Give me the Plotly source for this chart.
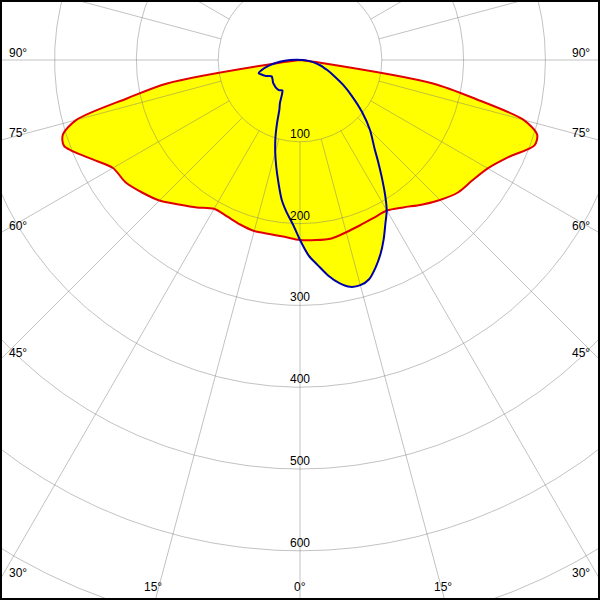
import numpy as np
import plotly.graph_objects as go

# ---- Luminous intensity data (cd) ----
# Red curve: C0 / C180 plane (right / left half), gamma measured from nadir
gamma_red = [0, 5, 10, 15, 20, 25, 30, 35, 40, 45, 50, 55, 60, 65, 70, 72.5, 75, 77.5, 80, 82.5, 85, 90]
red_c180 = [220, 217, 216, 216.5, 214, 211, 210, 220, 230.5, 243, 252, 260.5, 264, 284, 307, 304, 283, 216, 165, 25, 0, 0]
red_c0 = [220, 221, 221.5, 218, 215, 213, 212.5, 220, 231, 242, 252, 257, 265, 281, 305, 304, 283, 220, 165, 25, 0, 0]

# Blue curve: C90 / C270 plane (right / left half)
gamma_blue = [0, 2.5, 5, 7.5, 10, 12.5, 15, 17.5, 20, 22.5, 25, 27.5, 30, 32.5, 35, 37.5, 40,
              45, 50, 55, 60, 65, 70, 72.5, 75, 80, 85, 90]
blue_c270 = [220, 201, 187, 172, 152, 134, 117, 100, 82, 66, 58, 48, 43, 44, 45, 45, 45,
             44, 43, 41, 40, 46, 51, 53, 49, 38, 25, 12]
blue_c90 = [220, 239, 252, 266, 277, 284, 285, 281, 270, 257, 242, 226, 212, 193, 174, 157, 142,
            121, 99, 78, 61, 46, 35, 30, 26, 17, 9, 3]

ring_values = [100, 200, 300, 400, 500, 600, 700, 800, 900]
ring_labels = [100, 200, 300, 400, 500, 600]
spoke_step = 15
side_angle_labels = [90, 75, 60, 45, 30]
bottom_angle_labels = [15, 0, 15]

# ---- geometry of the picture (layout only) ----
W = H = 600
CX, CY = 300.0, 60.0      # pixel position of the diagram centre
SCALE = 0.818             # pixels per cd


def half_xy(gamma, vals, side):
    g = np.radians(np.asarray(gamma, float))
    v = np.asarray(vals, float)
    return side * v * np.sin(g), -v * np.cos(g)


def closed_curve(gamma, left, right):
    xl, yl = half_xy(gamma, left, -1)
    xr, yr = half_xy(gamma, right, 1)
    x = np.concatenate([xl[::-1], xr[1:], xl[-1:]])
    y = np.concatenate([yl[::-1], yr[1:], yl[-1:]])
    return x, y


rx, ry = closed_curve(gamma_red, red_c180, red_c0)
bx, by = closed_curve(gamma_blue, blue_c270, blue_c90)

fig = go.Figure()
SMOOTH = dict(shape="spline", smoothing=0.8)

# fills
for x, y in ((rx, ry), (bx, by)):
    fig.add_trace(go.Scatter(x=x, y=y, mode="lines", fill="toself",
                             fillcolor="#ffff00", line=dict(width=0, **SMOOTH),
                             hoverinfo="skip", showlegend=False))

# polar grid (rings and spokes) drawn over the fill, semi-transparent
t = np.radians(np.linspace(0, 360, 721))
gx, gy = [], []
for r in ring_values:
    gx += list(r * np.sin(t)) + [None]
    gy += list(-r * np.cos(t)) + [None]
for a in range(0, 360, spoke_step):
    ar = np.radians(a)
    gx += [100 * np.sin(ar), 1200 * np.sin(ar), None]
    gy += [-100 * np.cos(ar), -1200 * np.cos(ar), None]
fig.add_trace(go.Scatter(x=gx, y=gy, mode="lines",
                         line=dict(color="rgba(120,120,120,0.45)", width=1),
                         hoverinfo="skip", showlegend=False))

# outlines
fig.add_trace(go.Scatter(x=rx, y=ry, mode="lines",
                         line=dict(color="#e00000", width=2, **SMOOTH),
                         hoverinfo="skip", showlegend=False))
fig.add_trace(go.Scatter(x=bx, y=by, mode="lines",
                         line=dict(color="#0000a8", width=2, **SMOOTH),
                         hoverinfo="skip", showlegend=False))

font = dict(family="Liberation Sans", size=12, color="black")
ann = []
for r in ring_labels:
    ann.append(dict(x=0, y=-r, xref="x", yref="y", text=str(r), showarrow=False,
                    xanchor="center", yanchor="bottom", yshift=-1, font=font))


def px(x):
    return x / W


def py(y):
    return 1 - y / H


for a in side_angle_labels:
    ypix = CY + 300 / np.tan(np.radians(a)) if a != 90 else CY
    for xp in (18, 581):
        ann.append(dict(x=px(xp), y=py(ypix - 7), xref="paper", yref="paper",
                        text=f"{a}°", showarrow=False, xanchor="center", yanchor="middle",
                        font=font))
for a, sgn in zip(bottom_angle_labels, (-1, 0, 1)):
    xint = CX + sgn * (H - CY) * np.tan(np.radians(a))
    ann.append(dict(x=px(xint - 2 * abs(sgn)), y=py(587), xref="paper", yref="paper",
                    text=f"{a}°", showarrow=False, xanchor="center", yanchor="middle",
                    font=font))

fig.update_layout(
    width=W, height=H,
    margin=dict(l=0, r=0, t=0, b=0),
    paper_bgcolor="white", plot_bgcolor="white",
    xaxis=dict(range=[-CX / SCALE, (W - CX) / SCALE], visible=False, fixedrange=True),
    yaxis=dict(range=[-(H - CY) / SCALE, CY / SCALE], visible=False, fixedrange=True),
    annotations=ann,
    shapes=[dict(type="rect", xref="paper", yref="paper", x0=0, y0=0, x1=1, y1=1,
                 line=dict(color="black", width=4), layer="above")],
    showlegend=False,
)

fig.write_html("out.html", config={"displayModeBar": False},
               post_script="document.body.style.margin='0';document.body.style.overflow='hidden';")
